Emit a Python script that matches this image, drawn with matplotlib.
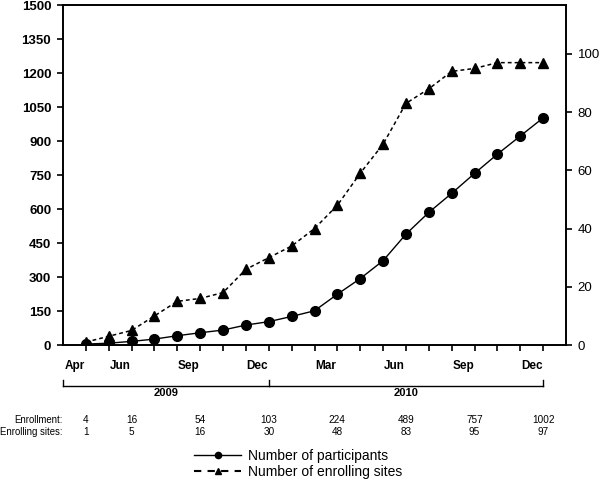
import matplotlib
matplotlib.use("Agg")
import matplotlib.pyplot as plt
import matplotlib.transforms as mtransforms
from matplotlib.lines import Line2D

plt.rcParams['font.family'] = ['Liberation Sans', 'DejaVu Sans']

# ---- data ----
months = ["Apr", "May", "Jun", "Jul", "Aug", "Sep", "Oct", "Nov", "Dec",
          "Jan", "Feb", "Mar", "Apr", "May", "Jun", "Jul", "Aug", "Sep",
          "Oct", "Nov", "Dec"]
participants = [4, 8, 16, 26, 41, 54, 66, 88, 103, 126, 151, 224, 293, 372,
                489, 585, 669, 757, 842, 922, 1002]
sites = [1, 3, 5, 10, 15, 16, 18, 26, 30, 34, 40, 48, 59, 69, 83, 88, 94,
         95, 97, 97, 97]
month_labels = ["Apr", "Jun", "Sep", "Dec", "Mar", "Jun", "Sep", "Dec"]
years = ["2009", "2010"]
table_months = ["Apr", "Jun", "Sep", "Dec", "Mar", "Jun", "Sep", "Dec"]
table_enroll = [4, 16, 54, 103, 224, 489, 757, 1002]
table_sites = [1, 5, 16, 30, 48, 83, 95, 97]
left_ticks = [0, 150, 300, 450, 600, 750, 900, 1050, 1200, 1350, 1500]
right_ticks = [0, 20, 40, 60, 80, 100]

W, H = 600, 484
fig = plt.figure(figsize=(W / 100, H / 100), dpi=100)
ax = fig.add_axes([63 / W, 1 - 345 / H, (566 - 63) / W, (345 - 5) / H])
ax2 = ax.twinx()

x = list(range(len(months)))
l1, = ax.plot(x, participants, color='black', lw=1.0, marker='o', ms=7,
              zorder=3)
l2, = ax2.plot(x, sites, color='black', lw=1.1, ls=(0, (2.5, 2)), marker='^',
               ms=7, zorder=3)

ax.set_xlim(-1, 21)
ax.set_ylim(0, 1500)
ax2.set_ylim(0, 116.8)

ax.set_yticks(left_ticks)
ax.set_yticklabels([str(v) for v in left_ticks])
ax2.set_yticks(right_ticks)
ax2.set_yticklabels([str(v) for v in right_ticks])

ax.set_xticks(x)
ax.set_xticklabels([])
label_pos = [-0.5, 1.5, 4.5, 7.5, 10.5, 13.5, 16.5, 19.5]
ax.set_xticks(label_pos, minor=True)
ax.set_xticklabels(month_labels, minor=True)
ax.tick_params(axis='x', which='major', direction='out', length=4.5, width=1.2)
ax.tick_params(axis='x', which='minor', length=0, pad=11, labelsize=8.5)
for lab in ax.get_xticklabels(minor=True):
    lab.set_fontweight('bold')

ax.tick_params(axis='y', direction='out', length=4.5, width=1.2, pad=4,
               labelsize=9.5)
ax2.tick_params(axis='y', direction='out', length=4.5, width=1.2, pad=4,
                labelsize=9.5)
for lab in ax.get_yticklabels():
    lab.set_fontweight('bold')

for a in (ax, ax2):
    for s in a.spines.values():
        s.set_linewidth(1.2)

# year bracket
trans = mtransforms.blended_transform_factory(ax.transData, ax.transAxes)
yb = (345 - 386) / 340
yt = (345 - 380) / 340
ax.plot([-1, 20], [yb, yb], color='black', lw=1.0, transform=trans, clip_on=False)
for xv in (-1, 8, 20):
    ax.plot([xv, xv], [yb, yt], color='black', lw=1.0, transform=trans,
            clip_on=False)
ax.text(3.5, (345 - 393) / 340, years[0], transform=trans, ha='center',
        va='center', fontsize=8, fontweight='bold')
ax.text(14, (345 - 393) / 340, years[1], transform=trans, ha='center',
        va='center', fontsize=8, fontweight='bold')

# table (values under the matching month-end points)
table_idx = [0, 2, 5, 8, 11, 14, 17, 20]
r1 = (345 - 420) / 340
r2 = (345 - 432) / 340
fig.text(63 / W, 1 - 420 / H, "Enrollment:", ha='right', va='center', fontsize=6.9)
fig.text(63 / W, 1 - 432 / H, "Enrolling sites:", ha='right', va='center', fontsize=6.9)
for i, e, s in zip(table_idx, table_enroll, table_sites):
    ax.text(i, r1, str(e), transform=trans, ha='center', va='center', fontsize=7.2)
    ax.text(i, r2, str(s), transform=trans, ha='center', va='center', fontsize=7.2)

# legend
h1 = Line2D([], [], color='black', lw=1.0, marker='o', ms=4.5)
h2 = Line2D([], [], color='black', lw=1.5, ls=(0, (3.5, 3)), marker='^', ms=5)
fig.legend(handles=[h1, h2],
           labels=['Number of participants', 'Number of enrolling sites'],
           loc='upper left', bbox_to_anchor=(194 / W, 1 - 449 / H),
           frameon=False, fontsize=10, handlelength=3.4, handletextpad=0.5,
           labelspacing=0.12, borderpad=0, borderaxespad=0)

fig.savefig("out.png", dpi=100)
